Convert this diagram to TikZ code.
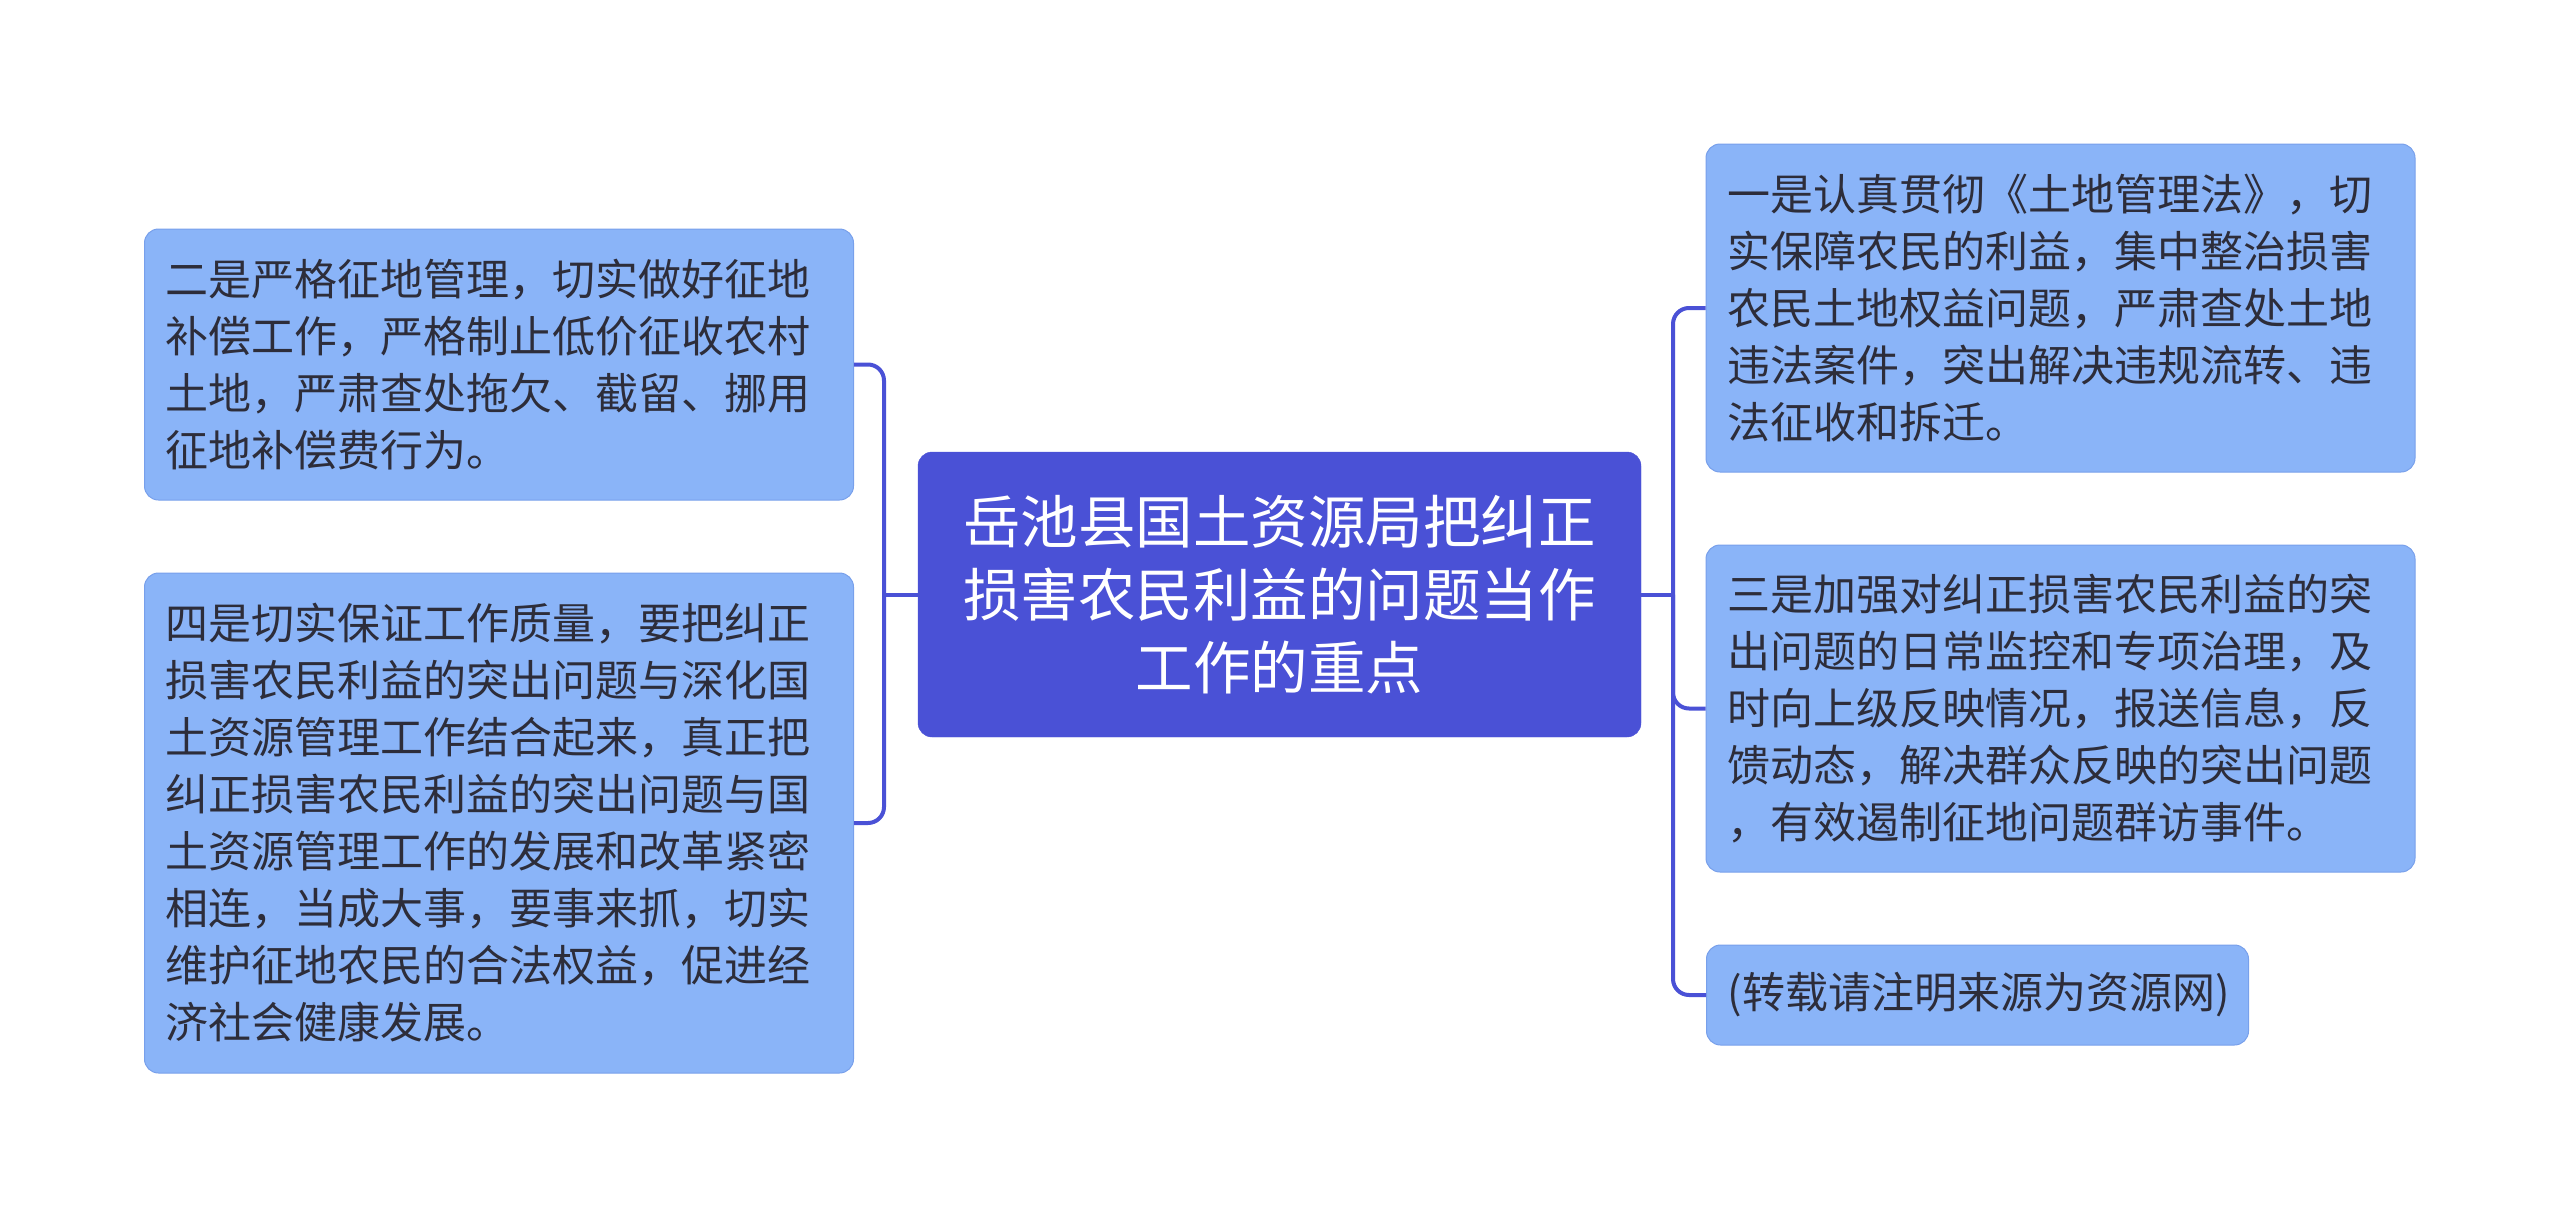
\documentclass[tikz,border=0pt]{standalone}
\usepackage{fontspec}
\newfontfamily\cjk{Noto Sans CJK SC}
\definecolor{hub}{RGB}{74,81,214}
\definecolor{leaf}{RGB}{138,180,248}
\definecolor{leafline}{RGB}{120,160,235}
\definecolor{ink}{RGB}{45,45,58}
\definecolor{wire}{RGB}{74,81,214}
\begin{document}
\begin{tikzpicture}[x=1pt,y=-1pt,
  hubbox/.style={draw=hub,fill=hub,rounded corners=14pt,text=white,align=center,
    font=\cjk\fontsize{57.5}{73}\selectfont,inner sep=0pt,minimum width=723pt,minimum height=285pt},
  leafbox/.style={draw=leafline,line width=1pt,fill=leaf,rounded corners=14pt,text=ink,align=left,
    font=\cjk\fontsize{43}{57}\selectfont,inner xsep=21pt,inner ysep=0pt,text width=667pt},
  wireline/.style={draw=wire,line width=4pt,rounded corners=16pt}]
\useasboundingbox (0,0) rectangle (2560,1218);
\node[hubbox] (c) at (1279.5,594.5) {岳池县国土资源局把纠正\\损害农民利益的问题当作\\工作的重点};
\node[leafbox,minimum height=271pt] (lt) at (499,364.5) {二是严格征地管理，切实做好征地\\补偿工作，严格制止低价征收农村\\土地，严肃查处拖欠、截留、挪用\\征地补偿费行为。};
\node[leafbox,minimum height=500pt] (lb) at (499,823) {四是切实保证工作质量，要把纠正\\损害农民利益的突出问题与深化国\\土资源管理工作结合起来，真正把\\纠正损害农民利益的突出问题与国\\土资源管理工作的发展和改革紧密\\相连，当成大事，要事来抓，切实\\维护征地农民的合法权益，促进经\\济社会健康发展。};
\node[leafbox,minimum height=328pt] (rt) at (2060.5,308) {一是认真贯彻《土地管理法》，切\\实保障农民的利益，集中整治损害\\农民土地权益问题，严肃查处土地\\违法案件，突出解决违规流转、违\\法征收和拆迁。};
\node[leafbox,minimum height=327pt] (rm) at (2060.5,708.5) {三是加强对纠正损害农民利益的突\\出问题的日常监控和专项治理，及\\时向上级反映情况，报送信息，反\\馈动态，解决群众反映的突出问题\\，有效遏制征地问题群访事件。};
\node[leafbox,text width=500pt,minimum height=100pt,anchor=west] (rb) at (1706,995) {(转载请注明来源为资源网)};
\coordinate (jl) at (884,594.5);
\coordinate (jr) at (1673,594.5);
\draw[wireline] (c.west) -- (jl);
\draw[wireline] (lt.east) -| (jl) |- (lb.east);
\draw[wireline] (c.east) -- (jr);
\draw[wireline] (rt.west) -| (jr) |- (rb.west);
\draw[wireline] (jr) |- (rm.west);
\end{tikzpicture}
\end{document}
